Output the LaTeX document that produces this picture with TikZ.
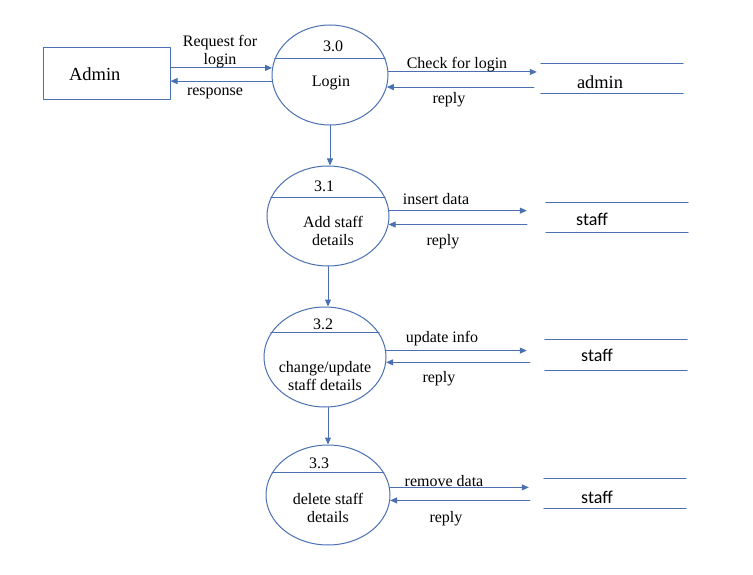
\documentclass[tikz,border=0pt]{standalone}
\usepackage{fontspec}
\setmainfont{Liberation Serif}
\newfontfamily\storefont{Carlito}
\usetikzlibrary{arrows.meta,shapes.geometric}
\definecolor{dfdblue}{HTML}{4A70B2}
\tikzset{
  flow/.style={draw=dfdblue,line width=1pt,-{Triangle[length=7pt,width=6pt]}},
  proc/.style={ellipse,draw=dfdblue,line width=1pt,inner sep=0pt,minimum height=100pt},
  entity/.style={draw=dfdblue,line width=1pt,minimum height=52pt,text width=75pt,inner xsep=26pt,align=left,font=\fontsize{18.5}{20}\selectfont},
  store/.style={inner sep=0pt,minimum width=142pt,minimum height=30pt},
  storetext/.style={inner sep=0pt,font=\storefont\fontsize{18}{20}\selectfont},
  admintext/.style={inner sep=0pt,font=\rmfamily\fontsize{18.4}{20}\selectfont},
  txt/.style={inner sep=0pt,align=center,font=\fontsize{16}{18}\selectfont}
}
\begin{document}
\begin{tikzpicture}[x=1pt,y=-1pt,line join=round,line cap=round]
\useasboundingbox (0,0) rectangle (753,575);
% external entity
\node[entity] (admin) at (106.5,74) {Admin};
% processes
\node[proc,minimum width=116pt] (p0) at (330,75) {};
\node[proc,minimum width=122pt] (p1) at (328,216) {};
\node[proc,minimum width=122pt] (p2) at (325,357) {};
\node[proc,minimum width=124pt] (p3) at (328,495) {};
\draw[dfdblue,line width=1pt] (p0.163) -- (p0.17);
\draw[dfdblue,line width=1pt] (p1.162) -- (p1.18);
\draw[dfdblue,line width=1pt] (p2.156) -- (p2.24);
\draw[dfdblue,line width=1pt] (p3.158) -- (p3.22);
\node[txt] (n0) at (333,46) {3.0};
\node[txt] (t0) at (331,83) {Login};
\node[txt] (n1) at (324,186) {3.1};
\node[txt] (t1) at (333,231) {Add staff\\details};
\node[txt] (n2) at (323,324) {3.2};
\node[txt] (t2) at (325,376) {change/update\\staff details};
\node[txt] (n3) at (319,463) {3.3};
\node[txt] (t3) at (328,508) {delete staff\\details};
% data stores
\node[store] (a0) at (612,78.5) {};
\node[store] (s1) at (617,217.5) {};
\node[store] (s2) at (616,355) {};
\node[store] (s3) at (615,493.5) {};
\foreach \s in {a0,s1,s2,s3}
  \draw[dfdblue,line width=1pt] (\s.north west) -- (\s.north east) (\s.south west) -- (\s.south east);
\node[admintext] (a0t) at (600,82) {admin};
\node[storetext] (s1t) at (592,219) {staff};
\node[storetext] (s2t) at (597,355) {staff};
\node[storetext] (s3t) at (597,497) {staff};
% flows
\draw[flow] (admin.east |- p0.173) -- (p0.173);
\draw[flow] (p0.186) -- (admin.east |- p0.186);
\node[txt] (l1) at (220,52) {Request for\\login};
\node[txt] (l2) at (215,93) {response};
\draw[flow] (p0.3) -- ([xshift=-4pt]a0.west |- p0.3);
\draw[flow] ([xshift=-7pt]a0.west |- p0.348) -- (p0.348);
\node[txt] (l3) at (457,65) {Check for login};
\node[txt] (l4) at (449,100) {reply};
\draw[flow] (p0.south) -- (p0.south |- p1.north);
\draw[flow] (p1.5) -- ([xshift=-19pt]s1.west |- p1.5);
\draw[flow] ([xshift=-19pt]s1.west |- p1.352) -- (p1.352);
\node[txt] (l5) at (436,199) {insert data};
\node[txt] (l6) at (443,242) {reply};
\draw[flow] (p1.south) -- (p1.south |- p2.north);
\draw[flow] (p2.6) -- ([xshift=-18pt]s2.west |- p2.6);
\draw[flow] ([xshift=-15pt]s2.west |- p2.355) -- (p2.355);
\node[txt] (l7) at (442,339) {update info};
\node[txt] (l8) at (439,379) {reply};
\draw[flow] (p2.south -| p1.south) -- (p1.south |- p3.north);
\draw[flow] (p3.7) -- ([xshift=-15pt]s3.west |- p3.7);
\draw[flow] ([xshift=-14pt]s3.west |- p3.355) -- (p3.355);
\node[txt] (l9) at (444,481) {remove data};
\node[txt] (l10) at (446,519) {reply};
\end{tikzpicture}
\end{document}
